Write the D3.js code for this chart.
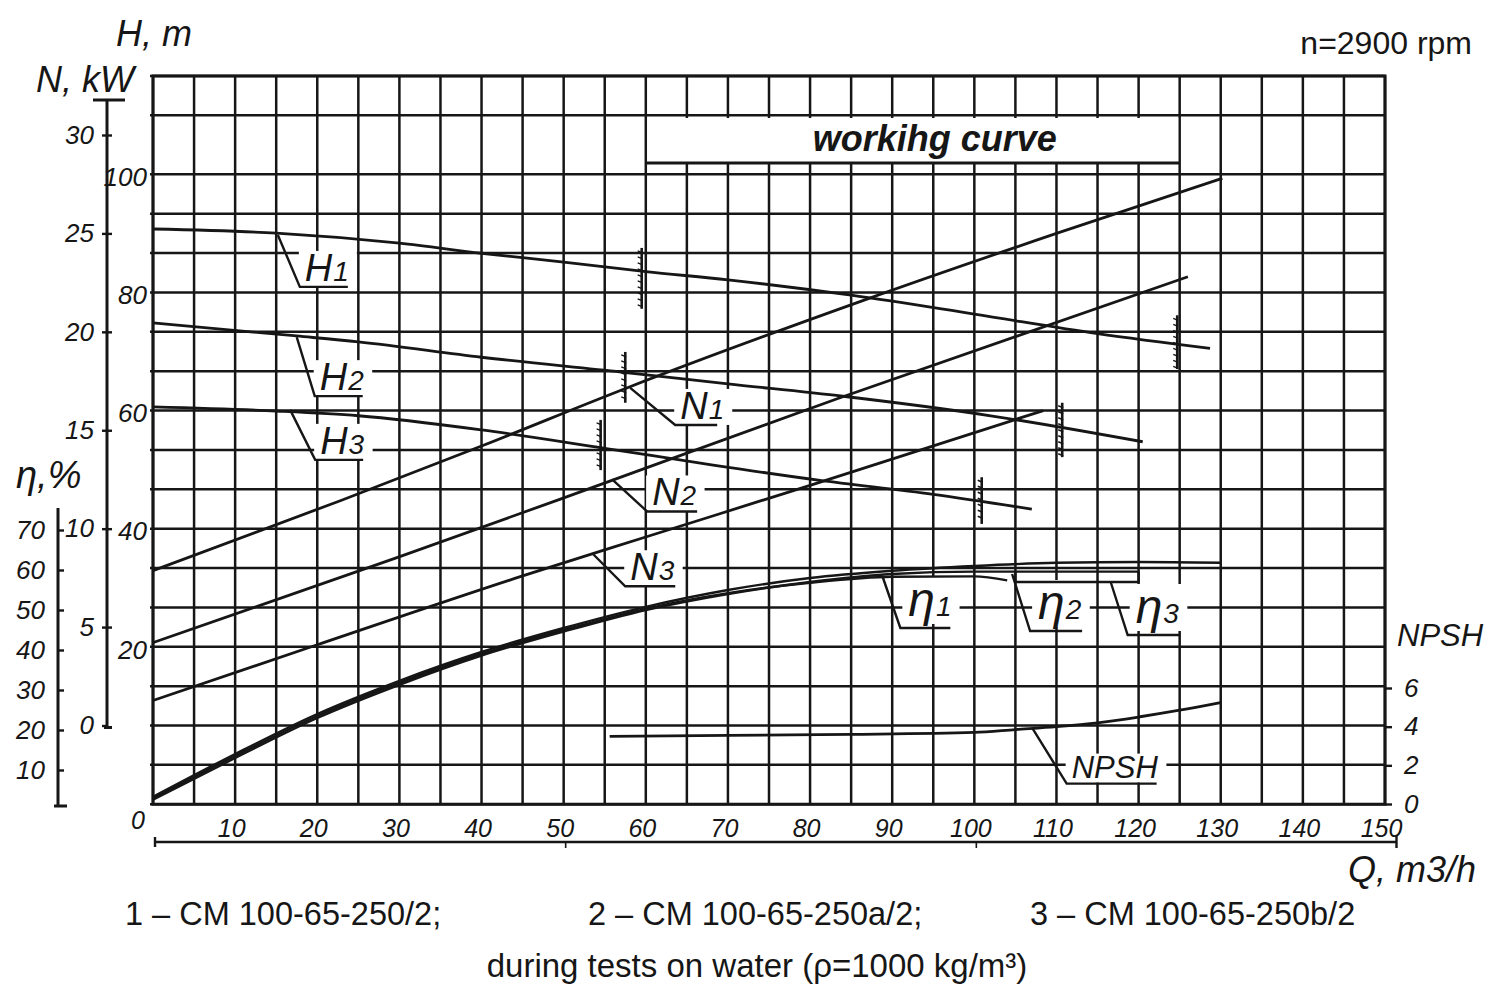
<!DOCTYPE html>
<html>
<head>
<meta charset="utf-8">
<script src="https://cdn.jsdelivr.net/npm/d3@7"></script>
<style>
  body { margin: 0; background: #fff; }
  svg text { font-family: "Liberation Sans", Arial, sans-serif; fill: #161616; }
  .it { font-style: italic; }
</style>
</head>
<body>
<div id="chart"></div>
<script>
// ----- data -----
const qTicks = [10, 20, 30, 40, 50, 60, 70, 80, 90, 100, 110, 120, 130, 140, 150];
const nTicks = [0, 5, 10, 15, 20, 25, 30];
const hTicks = [20, 40, 60, 80, 100];
const etaTicks = [10, 20, 30, 40, 50, 60, 70];
const npshTicks = [0, 2, 4, 6];

// grid: every 5 m3/h, rows every 2 kW (plus the odd top rows of the sheet)
const gridColsQ = d3.range(0, 151, 5);
const gridRowsN = d3.range(-4, 29, 2).concat([31, 33]);

// head H, m
const H1 = [[0, 91.2], [15, 90.5], [30, 88.8], [40, 87.1], [50, 85.6], [60, 84.0], [70, 82.6], [85, 80.0], [100, 76.8], [115, 73.5], [128.7, 71.0]];
const H2 = [[0, 75.3], [17.5, 73.1], [25, 72.1], [40, 69.5], [57, 67.0], [70, 65.0], [84, 62.9], [102, 59.6], [120.5, 55.2]];
const H3 = [[0, 61.1], [15, 60.4], [25, 59.6], [40, 57.2], [55, 54.1], [68, 51.3], [81, 48.7], [95, 46.3], [107, 43.8]];

// power N, kW
const N1 = [[0, 7.87], [22.8, 11.42], [40, 14.2], [58, 17.2], [86.5, 21.6], [110, 25.0], [130.2, 27.8]];
const N2 = [[0, 4.21], [29.7, 8.53], [49.6, 11.5], [83.3, 16.6], [126, 22.8]];
const N3 = [[0, 1.27], [20, 4.1], [45, 7.6], [59.7, 9.54], [80, 12.2], [108.4, 16.0]];

// efficiency, %
const ETA1 = [[0, 3.0], [10, 13.5], [20, 23.5], [30, 31.8], [40, 39.0], [50, 45.0], [60, 50.3], [70, 54.2], [80, 56.8], [90, 58.3], [100, 58.4], [104, 57.4]];
const ETA2 = [[0, 2.6], [10, 13.0], [20, 23.0], [30, 31.3], [40, 38.6], [50, 44.6], [60, 50.0], [70, 54.0], [80, 57.0], [90, 59.0], [100, 59.6], [110, 59.6], [120, 59.6]];
const ETA2_END = [[120, 59.6], [120, 57.0], [105, 57.0], [105, 59.4]];
const ETA3 = [[0, 3.3], [10, 14.0], [20, 24.0], [30, 32.3], [40, 39.5], [50, 45.5], [60, 50.8], [70, 55.0], [80, 58.0], [90, 59.8], [100, 61.0], [110, 61.8], [120, 62.0], [130, 61.8]];

// NPSH, m
const NPSH = [[55.6, 3.5], [70, 3.55], [85, 3.6], [100, 3.7], [105, 3.85], [110, 4.0], [115, 4.2], [120, 4.5], [125, 4.85], [130, 5.25]];

// limits of the working range on the head curves: Q, H top, H bottom
const hatches = [[59.5, 88, 77.7], [57.5, 70.4, 61.8], [54.5, 58.9, 50.4], [100.9, 49.2, 41.3], [110.7, 61.8, 52.6], [124.7, 76.6, 67.5]];
const workRange = [60, 125];

// curve labels: where the leader leaves the curve
const callouts = [
  { name: "H", sub: "1", scale: "H", q: 15.2, v: 90.2 },
  { name: "H", sub: "2", scale: "H", q: 17.5, v: 72.9 },
  { name: "H", sub: "3", scale: "H", q: 16.7, v: 60.6 },
  { name: "N", sub: "1", scale: "N", q: 58.1, v: 17.15 },
  { name: "N", sub: "2", scale: "N", q: 55.9, v: 12.5 },
  { name: "N", sub: "3", scale: "N", q: 53.6, v: 8.7 },
  { name: "η", sub: "1", scale: "eta", q: 88.8, v: 58.5 },
  { name: "η", sub: "2", scale: "eta", q: 104.6, v: 59.0 },
  { name: "η", sub: "3", scale: "eta", q: 116.6, v: 57.0 },
  { name: "NPSH", sub: "", scale: "npsh", q: 107.1, v: 3.9 }
];
const pumps = ["1 – CM 100-65-250/2;", "2 – CM 100-65-250a/2;", "3 – CM 100-65-250b/2"];

// ----- layout -----
const width = 1492, height = 1000;
const ink = "#161616";

const svg = d3.select("#chart").append("svg")
  .attr("width", width)
  .attr("height", height);

const x = d3.scaleLinear().domain([0, 150]).range([153, 1385]);
const yN = d3.scaleLinear().domain([0, 30]).range([725.5, 135]);
const yH = d3.scaleLinear().domain([0, 100]).range([768, 177]);
const yEta = d3.scaleLinear().domain([0, 70]).range([810, 530]);
const yNpsh = d3.scaleLinear().domain([0, 6]).range([804, 688]);
const scales = { H: yH, N: yN, eta: yEta, npsh: yNpsh };

// leader offsets (dx, dy, underline length) in px
const calloutLayout = {
  H1: [22, 52, 48], H2: [18, 59, 48], H3: [25, 50, 48],
  N1: [45, 37, 42], N2: [35, 32, 50], N3: [32, 32, 50],
  "η1": [18, 52, 50], "η2": [18, 57, 52], "η3": [17, 53, 52],
  NPSH: [34, 55, 90]
};

// ----- grid -----
const grid = svg.append("g")
  .attr("stroke", ink)
  .attr("stroke-width", 2.5);

grid.selectAll(".col")
  .data(gridColsQ)
  .enter().append("line")
  .attr("x1", d => x(d)).attr("x2", d => x(d))
  .attr("y1", yN(33)).attr("y2", yN(-4));

grid.selectAll(".row")
  .data(gridRowsN)
  .enter().append("line")
  .attr("x1", x(0) - 3).attr("x2", x(150))
  .attr("y1", d => yN(d)).attr("y2", d => yN(d));

// frame a bit heavier
svg.append("rect")
  .attr("x", x(0)).attr("y", yN(33))
  .attr("width", x(150) - x(0)).attr("height", yN(-4) - yN(33))
  .attr("fill", "none").attr("stroke", ink).attr("stroke-width", 3);

// "working curve" banner over the grid
svg.append("rect")
  .attr("x", x(workRange[0]) + 1.5).attr("y", 118)
  .attr("width", x(workRange[1]) - x(workRange[0]) - 3).attr("height", 45)
  .attr("fill", "#fff");
svg.append("line")
  .attr("x1", x(workRange[0])).attr("x2", x(workRange[1]))
  .attr("y1", 163).attr("y2", 163)
  .attr("stroke", ink).attr("stroke-width", 3);
svg.append("text")
  .attr("x", (x(workRange[0]) + x(workRange[1])) / 2 + 22)
  .attr("y", 151)
  .attr("text-anchor", "middle")
  .attr("class", "it")
  .attr("font-weight", "bold")
  .attr("font-size", 36)
  .text("workihg curve");

// layers: masks under curves, curves, labels on top
const maskG = svg.append("g");
const curveG = svg.append("g")
  .attr("fill", "none")
  .attr("stroke", ink)
  .attr("stroke-width", 2.8)
  .attr("stroke-linejoin", "round");
const labelG = svg.append("g");

// ----- curves -----
const lineOf = yScale => d3.line()
  .x(d => x(d[0]))
  .y(d => yScale(d[1]))
  .curve(d3.curveMonotoneX);

[H1, H2, H3].forEach(s => curveG.append("path").attr("d", lineOf(yH)(s)));
[N1, N2, N3].forEach(s => curveG.append("path").attr("d", lineOf(yN)(s)));
[ETA1, ETA2, ETA3].forEach(s => curveG.append("path").attr("d", lineOf(yEta)(s)).attr("stroke-width", 2.4));
curveG.append("path")
  .attr("d", d3.line().x(d => x(d[0])).y(d => yEta(d[1]))(ETA2_END))
  .attr("stroke-width", 2.4);
curveG.append("path").attr("d", lineOf(yNpsh)(NPSH));

// working range hatches
hatches.forEach(([q, h0, h1]) => {
  const hx = x(q);
  const ya = yH(h0), yb = yH(h1);
  curveG.append("line")
    .attr("x1", hx).attr("x2", hx)
    .attr("y1", ya).attr("y2", yb)
    .attr("stroke-width", 2.6);
  d3.range(ya + 3, yb - 2, 6).forEach(yy => {
    curveG.append("line")
      .attr("x1", hx - 4).attr("x2", hx + 1)
      .attr("y1", yy).attr("y2", yy + 2)
      .attr("stroke-width", 1.4);
  });
});

// ----- curve labels -----
callouts.forEach(c => {
  const key = c.name + c.sub;
  const [dx, dy, len] = calloutLayout[key];
  const ax = x(c.q), ay = scales[c.scale](c.v);
  const ex = ax + dx, ey = ay + dy;
  const isEta = c.name === "η";

  const t = labelG.append("text")
    .attr("class", "it")
    .attr("x", ex + (isEta ? 8 : 5))
    .attr("y", ey - (isEta ? 12 : 6));
  t.append("tspan")
    .attr("font-size", isEta ? 48 : (c.name === "NPSH" ? 31 : 38))
    .text(c.name);
  if (c.sub) {
    t.append("tspan")
      .attr("font-size", 28)
      .attr("dx", 1)
      .text(c.sub);
  }
  const bb = t.node().getBBox();
  maskG.append("rect")
    .attr("x", bb.x - 6).attr("y", bb.y + 4)
    .attr("width", bb.width + 14).attr("height", bb.height - 6)
    .attr("fill", "#fff");

  labelG.append("path")
    .attr("d", `M${ax},${ay}L${ex},${ey}H${ex + len}`)
    .attr("fill", "none")
    .attr("stroke", ink)
    .attr("stroke-width", 2.4);
});

// ----- axes -----
function styleTicks(g, size) {
  g.select(".domain").remove();
  g.selectAll("text")
    .attr("class", "it")
    .attr("font-size", size)
    .attr("fill", ink)
    .style("font-family", '"Liberation Sans", Arial, sans-serif');
  g.selectAll("line").attr("stroke", ink).attr("stroke-width", 2.4);
}

// Q
const qAxis = svg.append("g")
  .attr("transform", "translate(-4, 837)")
  .call(d3.axisBottom(x).tickValues(qTicks).tickSize(0));
styleTicks(qAxis, 25);
qAxis.selectAll("text").attr("y", 0).attr("dy", 0);
svg.append("text").attr("class", "it").attr("x", 138).attr("y", 829)
  .attr("text-anchor", "middle").attr("font-size", 25).text("0");

// Q ruler under the labels
svg.append("path")
  .attr("d", `M${x(0) + 2},837V847M${x(0) + 2},842H${x(151.4)}M${x(151.4)},836V848`)
  .attr("fill", "none").attr("stroke", ink).attr("stroke-width", 2.4);
svg.append("path")
  .attr("d", `M${x(50) + 2},842v6M${x(100) + 2},842v6`)
  .attr("fill", "none").attr("stroke", ink).attr("stroke-width", 1.6);
svg.append("text").attr("class", "it").attr("x", 1476).attr("y", 882)
  .attr("text-anchor", "end").attr("font-size", 36).text("Q, m3/h");

// N, kW
const nX = 107;
svg.append("path")
  .attr("d", `M${nX - 14},100H${nX + 18}M${nX},100V${yN(0) + 2}M${nX - 3},${yN(0) + 2}H${nX + 5}`)
  .attr("fill", "none").attr("stroke", ink).attr("stroke-width", 3);
const nAxisL = svg.append("g").attr("transform", `translate(${nX},0)`)
  .call(d3.axisLeft(yN).tickValues(nTicks).tickSize(5).tickPadding(8));
styleTicks(nAxisL, 26);
const nAxisR = svg.append("g").attr("transform", `translate(${nX},0)`)
  .call(d3.axisRight(yN).tickValues(nTicks.filter(d => d > 0)).tickSize(5).tickFormat(""));
styleTicks(nAxisR, 26);

// H, m (labels only, against the grid)
const hAxis = svg.append("g").attr("transform", "translate(149,0)")
  .call(d3.axisLeft(yH).tickValues(hTicks).tickSize(0).tickPadding(2));
styleTicks(hAxis, 26);

// efficiency
const eX = 58;
svg.append("path")
  .attr("d", `M${eX},508V${yEta(1)}M${eX - 4},${yEta(1)}H${eX + 9}`)
  .attr("fill", "none").attr("stroke", ink).attr("stroke-width", 3);
const eAxisL = svg.append("g").attr("transform", `translate(${eX},0)`)
  .call(d3.axisLeft(yEta).tickValues(etaTicks).tickSize(0).tickPadding(13));
styleTicks(eAxisL, 26);
const eAxisR = svg.append("g").attr("transform", `translate(${eX},0)`)
  .call(d3.axisRight(yEta).tickValues(etaTicks).tickSize(6).tickFormat(""));
styleTicks(eAxisR, 26);

// NPSH, m
const npAxis = svg.append("g").attr("transform", `translate(${x(150)},0)`)
  .call(d3.axisRight(yNpsh).tickValues(npshTicks).tickSize(7).tickPadding(12).tickFormat(d3.format("d")));
styleTicks(npAxis, 26);

// axis titles
svg.append("text").attr("class", "it").attr("x", 116).attr("y", 46).attr("font-size", 36).text("H, m");
svg.append("text").attr("class", "it").attr("x", 36).attr("y", 92).attr("font-size", 36).text("N, kW");
svg.append("text").attr("class", "it").attr("x", 16).attr("y", 488).attr("font-size", 38).text("η,%");
svg.append("text").attr("class", "it").attr("x", 1397).attr("y", 646).attr("font-size", 31).text("NPSH");
svg.append("text").attr("x", 1472).attr("y", 54).attr("text-anchor", "end").attr("font-size", 32).text("n=2900 rpm");

// legend lines under the sheet
const pumpX = [125, 588, 1030];
svg.selectAll(".pump")
  .data(pumps)
  .enter().append("text")
  .attr("x", (d, i) => pumpX[i])
  .attr("y", 925)
  .attr("font-size", 32.5)
  .text(d => d);
svg.append("text")
  .attr("x", 757).attr("y", 977)
  .attr("text-anchor", "middle")
  .attr("font-size", 33)
  .text("during tests on water (ρ=1000 kg/m³)");
</script>
</body>
</html>
